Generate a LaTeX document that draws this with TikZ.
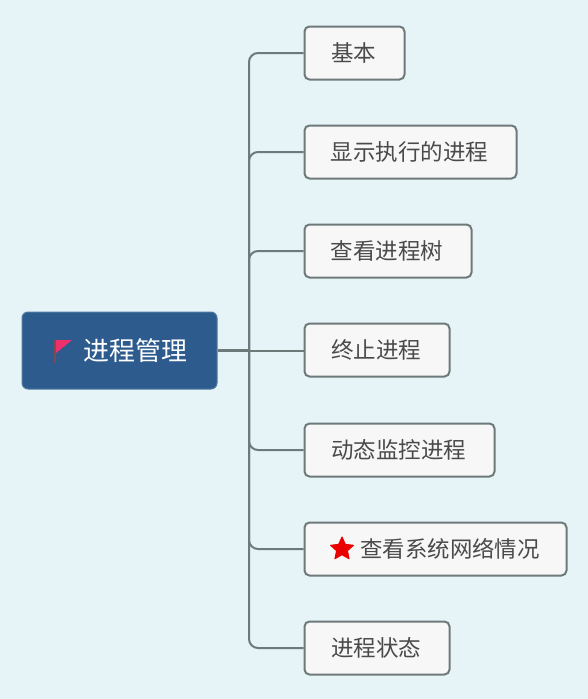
\documentclass[tikz,border=0pt]{standalone}
\usepackage{fontspec}
\setmainfont{Noto Sans CJK SC}
\usetikzlibrary{shapes.geometric}
\definecolor{bgc}{HTML}{E6F4F8}
\definecolor{linec}{HTML}{6E7A7A}
\definecolor{boxc}{HTML}{F7F7F7}
\definecolor{rootc}{HTML}{2D5B8E}
\definecolor{rootb}{HTML}{4F7BA3}
\definecolor{txtc}{HTML}{4A4A4A}
\definecolor{flagc}{HTML}{F0306A}
\definecolor{polec}{HTML}{7A4A55}
\tikzset{
  x=1pt,y=-1pt,
  topic/.style={draw=linec,line width=2pt,fill=boxc,rounded corners=5pt,minimum height=53pt,inner sep=0pt,text=txtc,font=\fontsize{22.5}{26}\selectfont,anchor=center},
  root/.style={draw=rootb,line width=1pt,fill=rootc,rounded corners=6pt,minimum width=195pt,minimum height=77pt,inner sep=0pt},
  roottext/.style={text=white,font=\fontsize{25.9}{30}\selectfont,inner sep=0pt},
  plaintext/.style={text=txtc,font=\fontsize{22.4}{26}\selectfont,inner sep=0pt},
  branch/.style={draw=linec,line width=2pt,rounded corners=9pt},
  stem/.style={draw=linec,line width=3pt},
  starmark/.style={star,star points=5,star point ratio=2.1,fill=red!92!black,draw=red!92!black,line width=1pt,line join=round,minimum size=24pt,inner sep=0pt}
}
\begin{document}
\begin{tikzpicture}
\useasboundingbox (0,0) rectangle (588,699);
\fill[bgc] (0,0) rectangle (588,699);
\coordinate (hub) at (249,350.5);
\node[root] (r) at (119.5,350.5) {};
\node[roottext] (rt) at (135.5,350.5) {进程管理};
\node[topic,minimum width=100pt] (a) at (354.5,53) {\kern-2pt 基本};
\node[topic,minimum width=212pt] (b) at (410.5,152) {\kern-2pt 显示执行的进程};
\node[topic,minimum width=167pt] (c) at (388,251) {\kern-2pt 查看进程树};
\node[topic,minimum width=145pt] (d) at (377,350) {\kern-2pt 终止进程};
\node[topic,minimum width=190pt] (e) at (399.5,450) {\kern-2pt 动态监控进程};
\node[topic,minimum width=262pt] (f) at (435.5,549) {};
\node[starmark] (s) at (342,549) {};
\node[plaintext] (ft) at (450,549) {查看系统网络情况};
\node[topic,minimum width=145pt] (g) at (377,648) {\kern-2pt 进程状态};
\draw[stem] (r.east) -- (hub);
\foreach \n in {a,b,c,e,f,g} \draw[branch] (hub) |- (\n.west);
\draw[branch] (hub) -- (d.west |- hub);
\fill[flagc] (56,340) -- (72,340) -- (56,353) -- cycle;
\draw[polec,line width=1.6pt] (55,340) -- (55,363);
\end{tikzpicture}
\end{document}
